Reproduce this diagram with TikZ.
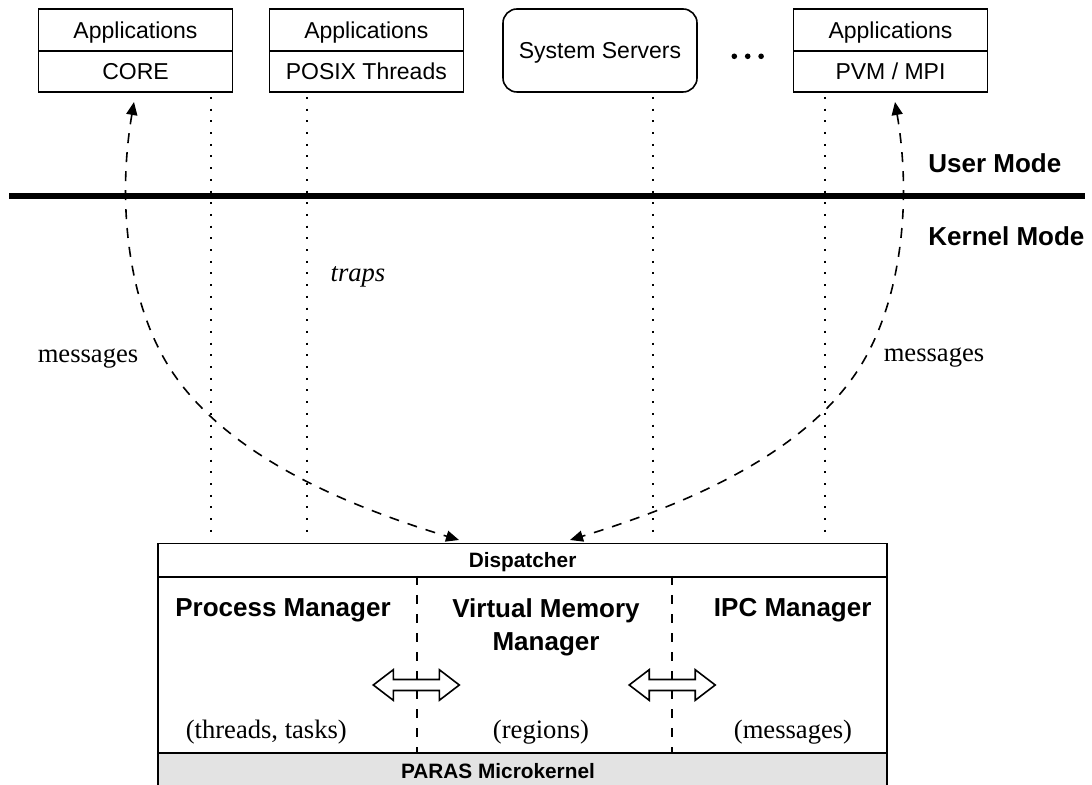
\documentclass[tikz,border=0pt]{standalone}
\usepackage{fontspec}
\setmainfont{Liberation Serif}
\setsansfont{Liberation Sans}
\usetikzlibrary{arrows.meta}
\tikzset{
  sans/.style={font=\sffamily\fontsize{11.5}{13.8}\selectfont},
  appbox/.style={draw, line width=0.8pt, minimum width=97pt, inner sep=0pt, sans, text height=8.2pt, text depth=0pt},
  srvbox/.style={draw, line width=0.8pt, rounded corners=7pt, minimum width=97pt, minimum height=41.5pt, inner sep=0pt, sans, text height=8.2pt, text depth=0pt},
  modelabel/.style={font=\sffamily\bfseries\fontsize{13}{15.6}\selectfont, anchor=base west, inner sep=0pt},
  mgrlabel/.style={font=\sffamily\bfseries\fontsize{13}{16.5}\selectfont, inner sep=0pt, align=center},
  smallbold/.style={font=\sffamily\bfseries\fontsize{10.4}{12.5}\selectfont, inner sep=0pt, text height=7.45pt, text depth=0pt},
  serif/.style={font=\fontsize{13.3}{16}\selectfont, inner sep=0pt, anchor=base},
  kbox/.style={draw, line width=0.9pt, inner sep=0pt, anchor=north west, minimum width=364.4pt},
  msgline/.style={line width=0.8pt, dash pattern=on 5pt off 4.5pt, {Triangle[length=6.5pt,width=5.5pt]}-{Triangle[length=6.5pt,width=5.5pt]}},
  trapline/.style={line width=1pt, dash pattern=on 1pt off 4.85pt},
  sepline/.style={line width=1pt, dash pattern=on 4.5pt off 5pt},
  dblarrowpic/.pic={
    \draw[line width=0.8pt, line join=miter] (-43,0) -- (-23,-15.3) -- (-23,-5.5) -- (23,-5.5) -- (23,-15.3) -- (43,0) -- (23,15.3) -- (23,5.5) -- (-23,5.5) -- (-23,15.3) -- cycle;
  }
}
\begin{document}
\begin{tikzpicture}[x=0.5pt,y=-0.5pt]
\useasboundingbox (0,0) rectangle (1092,785);

% application boxes
\node[appbox, minimum height=21pt] (app1t) at (135.5,30) {Applications};
\node[appbox, minimum height=20.5pt] (app1b) at (135.5,71.5) {CORE};
\node[appbox, minimum height=21pt] (app2t) at (366.3,30) {Applications};
\node[appbox, minimum height=20.5pt] (app2b) at (366.3,71.5) {POSIX Threads};
\node[srvbox] (srv) at (600,50.5) {System Servers};
\node[appbox, minimum height=21pt] (app4t) at (890.5,30) {Applications};
\node[appbox, minimum height=20.5pt] (app4b) at (890.5,71.5) {PVM / MPI};

% ellipsis dots
\fill (734.3,56.3) circle (1.4pt);
\fill (747.7,56.3) circle (1.4pt);
\fill (761.1,56.3) circle (1.4pt);

% user / kernel boundary
\coordinate (bndL) at (9,196);
\coordinate (bndR) at (1085,196);
\draw[line width=2.8pt] (bndL) -- (bndR);
\node[modelabel] (umode) at (928,172.3) {User Mode};
\node[modelabel] (kmode) at (928,246) {Kernel Mode};

% kernel
\node[kbox, minimum height=16.65pt, smallbold] (disp) at (157.3,542.7) {Dispatcher};
\node[kbox, minimum height=88pt] (mgrs) at (157.3,576) {};
\node[kbox, minimum height=17pt, fill=black!11] (paras) at (157.3,752) {};
\node[smallbold] (parastxt) at (498,771.4) {PARAS Microkernel};

\draw[sepline] (416.7,576) -- (416.7,752);
\draw[sepline] (671.7,576) -- (671.7,752);

\node[mgrlabel, anchor=base] (pm) at (283,617) {Process Manager};
\node[mgrlabel] (vmm) at (546,627.5) {Virtual Memory\\Manager};
\node[mgrlabel, anchor=base] (ipc) at (792.7,617) {IPC Manager};

\node[serif] (pmsub) at (266.3,738) {(threads, tasks)};
\node[serif] (vmmsub) at (541,738) {(regions)};
\node[serif] (ipcsub) at (793,738) {(messages)};

\pic at (416.3,685) {dblarrowpic};
\pic at (672.2,685) {dblarrowpic};

% traps (dotted)
\coordinate (tr1a) at (210.7,97);  \coordinate (tr1b) at (210.7,537);
\coordinate (tr2a) at (306.7,97);  \coordinate (tr2b) at (306.7,537);
\coordinate (tr3a) at (652.7,97);  \coordinate (tr3b) at (652.7,537);
\coordinate (tr4a) at (825,97);    \coordinate (tr4b) at (825,537);
\draw[trapline] (tr1a) -- (tr1b);
\draw[trapline] (tr2a) -- (tr2b);
\draw[trapline] (tr3a) -- (tr3b);
\draw[trapline] (tr4a) -- (tr4b);
\node[serif, font=\itshape\fontsize{13.3}{16}\selectfont] (traps) at (358,281.7) {traps};

% messages (dashed curves)
\coordinate (tipL) at (134,102);
\coordinate (dispL) at (459,540);
\coordinate (tipR) at (895,102);
\coordinate (dispR) at (570,540);
\draw[msgline] (tipL) .. controls (116.6,204) and (128.2,306.6) .. (173,373) .. controls (229,456) and (344.3,505) .. (dispL);
\draw[msgline] (tipR) .. controls (912.4,204) and (900.8,306.6) .. (856,373) .. controls (800,456) and (684.7,505) .. (dispR);
\node[serif] (msgL) at (88,363) {messages};
\node[serif] (msgR) at (934,362) {messages};
\end{tikzpicture}
\end{document}
